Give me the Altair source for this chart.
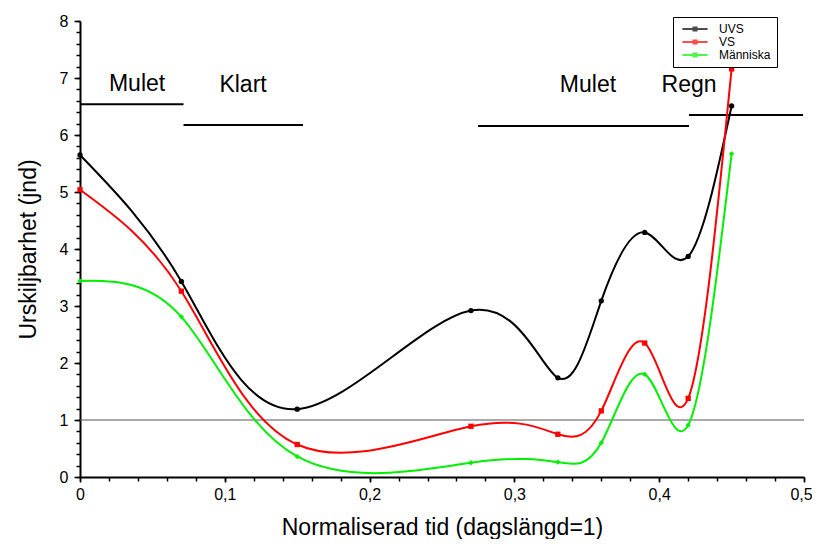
import altair as alt
import pandas as pd

# ---- data ----
x_vals = [0.0, 0.07, 0.15, 0.27, 0.33, 0.36, 0.39, 0.42, 0.45]
uvs = [5.65, 3.43, 1.19, 2.92, 1.74, 3.09, 4.29, 3.87, 6.51]
vs = [5.04, 3.26, 0.57, 0.89, 0.75, 1.16, 2.35, 1.38, 7.16]
manniska = [3.44, 2.81, 0.36, 0.25, 0.26, 0.60, 1.80, 0.91, 5.67]
series_names = ["UVS", "VS", "Människa"]
series_colors = ["#000000", "#ff0000", "#00f000"]
series_shapes = ["circle", "square", "diamond"]

weather_labels = ["Mulet", "Klart", "Mulet", "Regn"]
weather_start = [0.0, 0.0715, 0.2749, 0.4206]
weather_end = [0.0715, 0.154, 0.4206, 0.4993]
weather_level = [6.54, 6.175, 6.158, 6.35]
weather_text_x = [0.0394, 0.1126, 0.3508, 0.4206]
weather_text_y = [6.89, 6.877, 6.877, 6.877]

threshold = 1.0
y_major = [0, 1, 2, 3, 4, 5, 6, 7, 8]
y_minor = [round(i * 0.2, 1) for i in range(0, 41)]
x_major = [0.0, 0.1, 0.2, 0.3, 0.4, 0.5]
x_minor = [round(i * 0.02, 2) for i in range(0, 26)]

FONT = "Liberation Sans"

rows = []
for name, vals in zip(series_names, [uvs, vs, manniska]):
    for xv, yv in zip(x_vals, vals):
        rows.append({"x": xv, "y": yv, "serie": name})
df = pd.DataFrame(rows)

seg_df = pd.DataFrame({"x": weather_start, "x2": weather_end, "y": weather_level})
txt_df = pd.DataFrame({"x": weather_text_x, "y": weather_text_y, "label": weather_labels})
thr_df = pd.DataFrame({"x": [0.0], "x2": [0.5], "y": [threshold]})

x_scale = alt.Scale(domain=[0, 0.5], nice=False, zero=False)
y_scale = alt.Scale(domain=[0, 8], nice=False)

x_axis = alt.Axis(
    values=x_major,
    labelExpr="replace(format(datum.value, '.1~f'), '.', ',')",
    labelFlush=False,
    labelOffset={"condition": {"test": "datum.value > 0.45", "value": -3}, "value": 0},
    tickSize=5,
    grid=False,
    orient="bottom",
    title="Normaliserad tid (dagslängd=1)",
)
y_axis = alt.Axis(
    values=y_major,
    format="d",
    labelFlush=False,
    tickSize=6,
    grid=False,
    orient="left",
    title="Urskiljbarhet (jnd)",
)
x_axis_minor = alt.Axis(values=x_minor, labels=False, tickSize=4, domain=False,
                        grid=False, title=None, orient="bottom")
y_axis_minor = alt.Axis(values=y_minor, labels=False, tickSize=4, domain=False,
                        grid=False, title=None, orient="left")

color_scale = alt.Scale(domain=series_names, range=series_colors)
shape_scale = alt.Scale(domain=series_names, range=series_shapes)

legend_path = "M-4.2,-0.34H4.2V0.34H-4.2Z M-0.85,-0.85H0.85V0.85H-0.85Z"

minor = alt.Chart(thr_df).mark_rule(opacity=0).encode(
    x=alt.X("x:Q", scale=x_scale, axis=x_axis_minor),
    y=alt.Y("y:Q", scale=y_scale, axis=y_axis_minor),
)

thr = alt.Chart(thr_df).mark_rule(color="#555555", strokeWidth=1).encode(
    x=alt.X("x:Q", scale=x_scale, axis=x_axis),
    x2="x2:Q",
    y=alt.Y("y:Q", scale=y_scale, axis=y_axis),
)

segs = alt.Chart(seg_df).mark_rule(color="black", strokeWidth=2).encode(
    x=alt.X("x:Q", scale=x_scale, axis=None), x2="x2:Q",
    y=alt.Y("y:Q", scale=y_scale, axis=None),
)

txt = alt.Chart(txt_df).mark_text(
    font=FONT, fontSize=23, color="black", align="center", baseline="middle"
).encode(
    x=alt.X("x:Q", scale=x_scale, axis=None),
    y=alt.Y("y:Q", scale=y_scale, axis=None),
    text="label:N",
)

lines = alt.Chart(df).mark_line(interpolate="natural", strokeWidth=2).encode(
    x=alt.X("x:Q", scale=x_scale, axis=None),
    y=alt.Y("y:Q", scale=y_scale, axis=None),
    color=alt.Color("serie:N", scale=color_scale, legend=None),
)

# tiny points that only carry the legend
legend_pts = alt.Chart(df).mark_point(filled=True, size=1).encode(
    x=alt.X("x:Q", scale=x_scale, axis=None),
    y=alt.Y("y:Q", scale=y_scale, axis=None),
    color=alt.Color(
        "serie:N",
        scale=color_scale,
        legend=alt.Legend(
            title=None,
            orient="none",
            legendX=593,
            legendY=-4,
            strokeColor="black",
            fillColor="white",
            padding=6,
            labelFont=FONT,
            labelFontSize=12,
            labelColor="black",
            symbolType=legend_path,
            symbolSize=36,
            symbolStrokeWidth=0,
            symbolOffset=10,
            rowPadding=1,
            labelOffset=18,
        ),
    ),
)

pts = alt.Chart(df).mark_point(filled=True, size=28, opacity=1).encode(
    x=alt.X("x:Q", scale=x_scale, axis=None),
    y=alt.Y("y:Q", scale=y_scale, axis=None),
    color=alt.Color("serie:N", scale=color_scale, legend=None),
    shape=alt.Shape("serie:N", scale=shape_scale, legend=None),
)

chart = (
    alt.layer(minor, thr, segs, txt, lines, legend_pts, pts)
    .resolve_axis(x="independent", y="independent")
    .resolve_legend(color="independent", shape="independent")
    .properties(
        width=724,
        height=456,
        autosize=alt.AutoSizeParams(type="none"),
        padding={"left": 72, "top": 13, "right": 8, "bottom": 62},
    )
    .configure_view(stroke=None)
    .configure_axis(
        labelFont=FONT,
        labelFontSize=16,
        labelColor="black",
        titleFont=FONT,
        titleFontSize=23,
        titleFontWeight="normal",
        titleColor="black",
        domainColor="black",
        domainWidth=2,
        tickColor="black",
        tickWidth=1.5,
    )
    .configure_axisY(labelPadding=6, titlePadding=19)
    .configure_axisX(labelPadding=4, titlePadding=14)
)

chart.save("out.html", embed_options={"renderer": "svg", "actions": False})
